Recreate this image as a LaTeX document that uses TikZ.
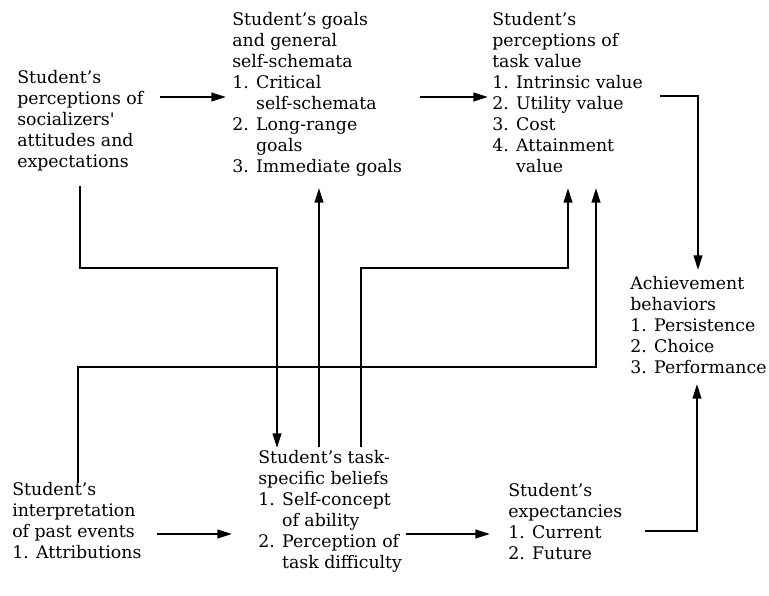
\documentclass[tikz,border=0pt]{standalone}
\usepackage{fontspec}
\setmainfont{DejaVu Serif}
\usetikzlibrary{arrows.meta}
\newcommand{\ind}{\phantom{1. }}
\begin{document}
\begin{tikzpicture}[x=0.75pt,y=-0.75pt,
  lbl/.style={anchor=north west, inner sep=0pt, align=left,
              font=\fontsize{13}{15.75}\selectfont},
  flow/.style={line width=1.5pt, -{Triangle[length=11pt,width=6.5pt]}}]
\useasboundingbox (0,0) rectangle (769,596);

% boxes of text
\node[lbl] (soc) at (17,70) {Student’s\\perceptions of\\socializers\textquotesingle\\attitudes and\\expectations};
\node[lbl] (goals) at (232,12) {Student’s goals\\and general\\self-schemata\\1. Critical\\\ind self-schemata\\2. Long-range\\\ind goals\\3. Immediate goals};
\node[lbl] (value) at (492,12) {Student’s\\perceptions of\\task value\\1. Intrinsic value\\2. Utility value\\3. Cost\\4. Attainment\\\ind value};
\node[lbl] (ach) at (630,276) {Achievement\\behaviors\\1. Persistence\\2. Choice\\3. Performance};
\node[lbl] (past) at (12,482) {Student’s\\interpretation\\of past events\\1. Attributions};
\node[lbl] (beliefs) at (258,450) {Student’s task-\\specific beliefs\\1. Self-concept\\\ind of ability\\2. Perception of\\\ind task difficulty};
\node[lbl] (expect) at (508,483) {Student’s\\expectancies\\1. Current\\2. Future};

% connector end points
\coordinate (socOut)  at (160,97);
\coordinate (goalsIn) at (226,97);
\coordinate (goalsOut) at (420,97);
\coordinate (valueIn) at (488,97);
\coordinate (valueOut) at (660,96);
\coordinate (achTopCorner) at (698,96);
\coordinate (achTopIn) at (698,270);

\coordinate (pastOut) at (157,534);
\coordinate (beliefsIn) at (232,534);
\coordinate (beliefsOut) at (406,534);
\coordinate (expectIn) at (490,534);
\coordinate (expectOut) at (645,531);
\coordinate (achBotCorner) at (697,531);
\coordinate (achBotIn) at (697,384);

% lines between the two rows
\coordinate (socDown) at (80,186);
\coordinate (socBend1) at (80,268);
\coordinate (socBend2) at (277,268);
\coordinate (beliefsInTop) at (277,448);

\coordinate (beliefsUp1) at (319,447);
\coordinate (goalsInBot) at (319,188);

\coordinate (beliefsUp2) at (361,447);
\coordinate (b2Bend1) at (361,268);
\coordinate (b2Bend2) at (568,268);
\coordinate (valueIn1) at (568,188);

\coordinate (pastUp) at (78,483);
\coordinate (pastBend1) at (78,367);
\coordinate (pastBend2) at (596,367);
\coordinate (valueIn2) at (596,188);

% horizontal arrows
\draw[flow] (socOut) -- (goalsIn);
\draw[flow] (goalsOut) -- (valueIn);
\draw[flow] (pastOut) -- (beliefsIn);
\draw[flow] (beliefsOut) -- (expectIn);

% elbows into achievement behaviors
\draw[flow] (valueOut) -- (achTopCorner) -- (achTopIn);
\draw[flow] (expectOut) -- (achBotCorner) -- (achBotIn);

% crossing connectors
\draw[flow] (socDown) -- (socBend1) -- (socBend2) -- (beliefsInTop);
\draw[flow] (beliefsUp1) -- (goalsInBot);
\draw[flow] (beliefsUp2) -- (b2Bend1) -- (b2Bend2) -- (valueIn1);
\draw[flow] (pastUp) -- (pastBend1) -- (pastBend2) -- (valueIn2);
\end{tikzpicture}
\end{document}
